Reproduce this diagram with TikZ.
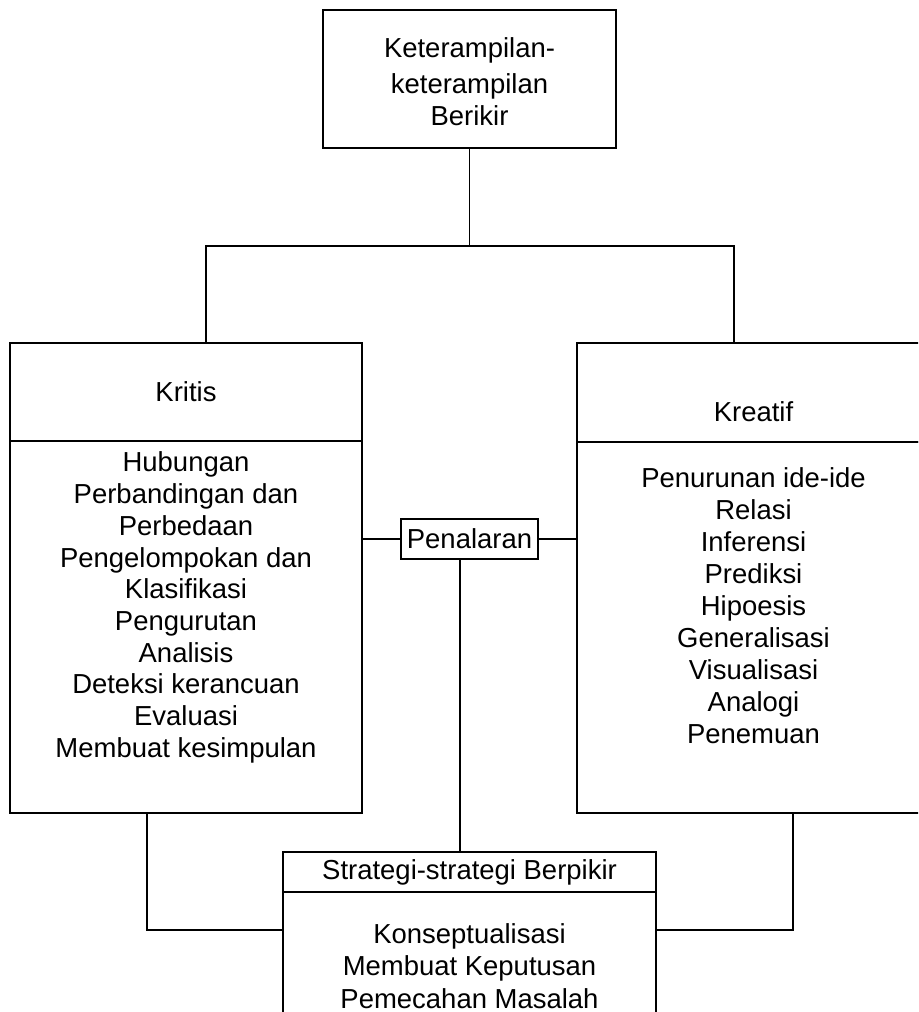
\documentclass[tikz,border=0pt]{standalone}
\usepackage{fontspec}
\setmainfont{Liberation Sans}
\begin{document}
\begin{tikzpicture}[x=0.75pt,y=-0.75pt,
  line width=1.4pt,
  box/.style={draw, rectangle, inner sep=0pt, align=center,
    font=\fontsize{20.6}{24}\selectfont},
  label/.style={inner sep=0pt, align=center,
    font=\fontsize{20.6}{23.8}\selectfont},
  wire/.style={draw, line width=1.4pt}]
\clip (0,0) rectangle (918,1012);

% main heading
\node[box, minimum width=293*0.75pt, minimum height=138*0.75pt] (top) at (469.5,79) {};
\node[label, font=\fontsize{20.6}{24}\selectfont] (topText) at (469.5,82)
  {Keterampilan-\\[3pt]keterampilan\\Berikir};

% left column: critical thinking
\node[box, minimum width=352*0.75pt, minimum height=98*0.75pt]  (kritisHead) at (186,392) {Kritis};
\node[box, minimum width=352*0.75pt, minimum height=372*0.75pt] (kritisBody) at (186,627) {};
\node[label] (kritisList) at (186,607.5)
  {Hubungan\\Perbandingan dan\\Perbedaan\\Pengelompokan dan\\Klasifikasi\\
   Pengurutan\\Analisis\\Deteksi kerancuan\\Evaluasi\\Membuat kesimpulan};

% right column: creative thinking
\node[box, minimum width=353*0.75pt, minimum height=99*0.75pt]  (kreatifHead) at (753.5,392.5) {};
\node[label] (kreatifTitle) at (753.5,412) {Kreatif};
\node[box, minimum width=353*0.75pt, minimum height=371*0.75pt] (kreatifBody) at (753.5,627.5) {};
\node[label, font=\fontsize{20.6}{24}\selectfont] (kreatifList) at (753.5,606)
  {Penurunan ide-ide\\Relasi\\Inferensi\\Prediksi\\Hipoesis\\Generalisasi\\
   Visualisasi\\Analogi\\Penemuan};

% reasoning in the middle
\node[box, minimum width=137*0.75pt, minimum height=40*0.75pt] (penalaran) at (469.5,539) {Penalaran};

% thinking strategies at the bottom
\node[box, minimum width=373*0.75pt, minimum height=40*0.75pt]  (strategiHead) at (469.5,872) {Strategi-strategi Berpikir};
\node[box, minimum width=373*0.75pt, minimum height=148*0.75pt] (strategiBody) at (469.5,966) {};
\node[label, font=\fontsize{20.6}{24.4}\selectfont] (strategiList) at (469.5,966)
  {Konseptualisasi\\Membuat Keputusan\\Pemecahan Masalah};

% junction points of the connectors
\coordinate (splitL) at (206,246);
\coordinate (splitR) at (734,246);
\coordinate (drop)   at (460,852);
\coordinate (joinL)  at (147,930);
\coordinate (joinR)  at (793,930);

% connectors
\draw[wire] (top.south) -- (top.south |- splitL);
\draw[wire] (kritisHead.north -| splitL) -- (splitL) -- (splitR) -- (kreatifHead.north -| splitR);
\draw[wire] (kritisBody.east |- penalaran) -- (penalaran.west);
\draw[wire] (penalaran.east) -- (kreatifBody.west |- penalaran);
\draw[wire] (penalaran.south -| drop) -- (drop);
\draw[wire] (kritisBody.south -| joinL) -- (joinL) -- (strategiBody.west |- joinL);
\draw[wire] (kreatifBody.south -| joinR) -- (joinR) -- (strategiBody.east |- joinR);
\end{tikzpicture}
\end{document}
